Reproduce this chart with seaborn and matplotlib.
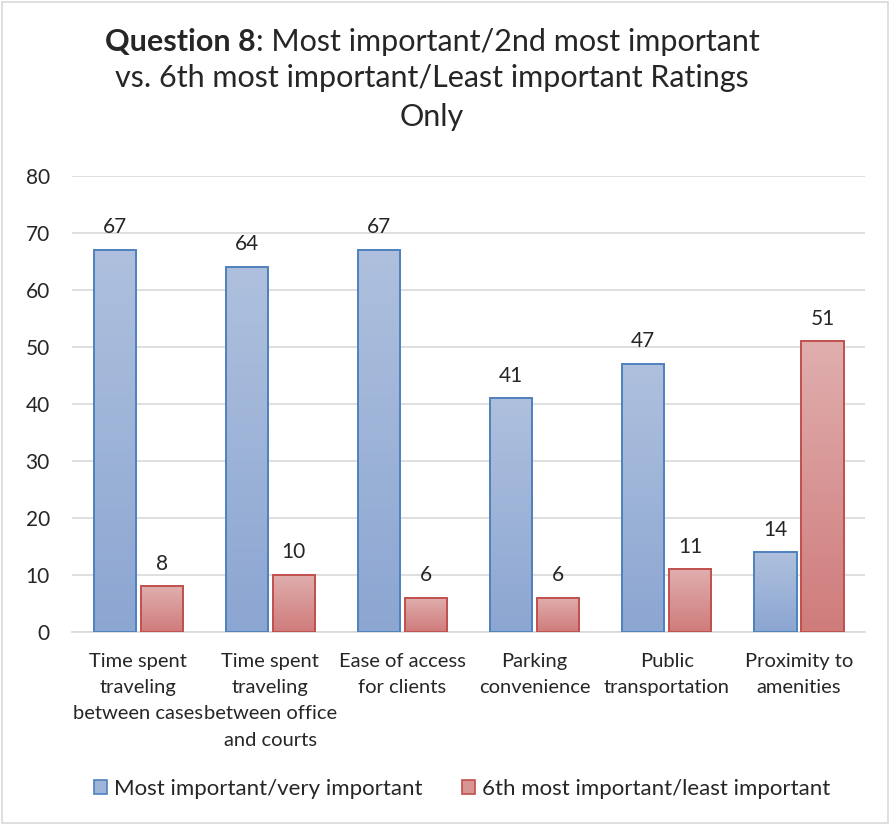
import numpy as np
import pandas as pd
import matplotlib
matplotlib.use("Agg")
import matplotlib.pyplot as plt
import seaborn as sns
from matplotlib.colors import LinearSegmentedColormap
from matplotlib.patches import Rectangle

# ---- data ----
categories = [
    "Time spent\ntraveling\nbetween cases",
    "Time spent\ntraveling\nbetween office\nand courts",
    "Ease of access\nfor clients",
    "Parking\nconvenience",
    "Public\ntransportation",
    "Proximity to\namenities",
]
most_important = [67, 64, 67, 41, 47, 14]
least_important = [8, 10, 6, 6, 11, 51]
series_names = ["Most important/very important", "6th most important/least important"]

df = pd.DataFrame({
    "category": categories * 2,
    "value": most_important + least_important,
    "series": [series_names[0]] * 6 + [series_names[1]] * 6,
})

# ---- style ----
sns.set_style("white")
plt.rcParams["font.family"] = ["Lato", "DejaVu Sans"]

BLUE_EDGE = "#4F81BD"
RED_EDGE = "#C0504D"
blue_grad = LinearSegmentedColormap.from_list("bg", ["#AEC0DD", "#8CA6D2"])
red_grad = LinearSegmentedColormap.from_list("rg", ["#E0AEAE", "#CF7C7B"])

fig = plt.figure(figsize=(8.9, 8.25), dpi=100)
ax = fig.add_axes([0.081, 0.234, 0.891, 0.553])

sns.barplot(
    data=df, x="category", y="value", hue="series",
    palette=["#9EB4D9", "#D99594"], width=0.71, gap=0.1,
    edgecolor="none", linewidth=0, ax=ax, legend=False,
)

ax.set_ylim(0, 80)
ax.set_yticks(range(0, 81, 10))
ax.yaxis.grid(True, color="#D9D9D9", linewidth=1.2)
ax.set_axisbelow(True)
for s in ["top", "right", "left"]:
    ax.spines[s].set_visible(False)
ax.spines["bottom"].set_color("#D9D9D9")
ax.spines["bottom"].set_linewidth(1.2)
ax.tick_params(axis="y", length=0, pad=16, labelsize=15)
ax.tick_params(axis="x", length=0, pad=15, labelsize=14.5)
for lbl in ax.get_xticklabels():
    lbl.set_linespacing(1.66)
ax.set_xlabel("")
ax.set_ylabel("")

# gradient fills + edges + value labels
for cont, cmap, edge in zip(ax.containers, [blue_grad, red_grad], [BLUE_EDGE, RED_EDGE]):
    for bar in cont:
        x0, y0 = bar.get_x(), bar.get_y()
        w, h = bar.get_width(), bar.get_height()
        bar.set_facecolor("none")
        grad = np.linspace(0, 1, 256).reshape(-1, 1)
        im = ax.imshow(grad, cmap=cmap, aspect="auto", origin="upper",
                       extent=[x0, x0 + w, y0, y0 + h], zorder=2)
        clip = Rectangle((x0, y0), w, h, transform=ax.transData)
        im.set_clip_path(clip)
        ax.add_patch(Rectangle((x0, y0), w, h, facecolor="none",
                               edgecolor=edge, linewidth=1.4, zorder=3))
    ax.bar_label(cont, padding=9, fontsize=15)
ax.set_xlim(-0.5, 5.5)
ax.set_ylim(0, 80)

# title: bold "Question 8" then regular remainder
fig.canvas.draw()
renderer = fig.canvas.get_renderer()
ty = 1 - 42 / 825
cx = 432 / 890
t1 = fig.text(0, ty, "Question 8", fontsize=22, fontweight="bold", va="center", ha="left")
t2 = fig.text(0, ty, ": Most important/2nd most important", fontsize=22, va="center", ha="left")
w1 = t1.get_window_extent(renderer).width / fig.bbox.width
w2 = t2.get_window_extent(renderer).width / fig.bbox.width
start = cx - (w1 + w2) / 2
t1.set_x(start)
t2.set_x(start + w1)
fig.text(cx, 1 - 78 / 825, "vs. 6th most important/Least important Ratings",
         fontsize=22, ha="center", va="center")
fig.text(cx, 1 - 117 / 825, "Only", fontsize=22, ha="center", va="center")

# legend
handles = [
    Rectangle((0, 0), 1, 1, facecolor="#9EB4D9", edgecolor=BLUE_EDGE, linewidth=1.2),
    Rectangle((0, 0), 1, 1, facecolor="#D99594", edgecolor=RED_EDGE, linewidth=1.2),
]
fig.legend(handles, series_names, loc="center", bbox_to_anchor=(462 / 890, 1 - 789 / 825),
           ncol=2, frameon=False, fontsize=16, handlelength=0.6, handleheight=0.6,
           handletextpad=0.3, columnspacing=1.8)

# outer border
fig.patches.append(Rectangle((0.002, 0.002), 0.996, 0.996, transform=fig.transFigure,
                             fill=False, edgecolor="#D9D9D9", linewidth=1.2))

fig.savefig("out.png", dpi=100)
